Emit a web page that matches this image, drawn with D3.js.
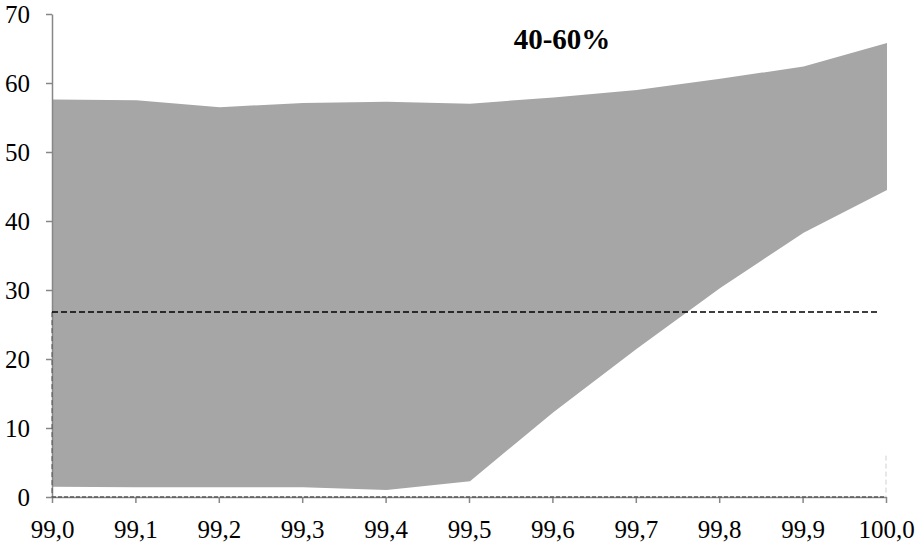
<!DOCTYPE html>
<html>
<head>
<meta charset="utf-8">
<script src="https://cdn.jsdelivr.net/npm/d3@7"></script>
<style>
  body { margin: 0; background: #fff; }
  svg text { font-family: "Liberation Serif", "Times New Roman", serif; }
</style>
</head>
<body>
<div id="chart"></div>
<script>
// percentiles on the x axis
var xValues = [99.0, 99.1, 99.2, 99.3, 99.4, 99.5, 99.6, 99.7, 99.8, 99.9, 100.0];
// band bounds
var upperValues = [57.6, 57.5, 56.5, 57.1, 57.3, 57.0, 57.9, 59.0, 60.6, 62.4, 65.8];
var lowerValues = [1.5, 1.4, 1.4, 1.4, 1.0, 2.3, 12.3, 21.5, 30.3, 38.3, 44.5];
// dashed reference level
var refLevel = [26.8];
var yTicks = [0, 10, 20, 30, 40, 50, 60, 70];
var titleText = "40-60%";

var width = 918, height = 550;
var margin = {left: 52, right: 32, top: 14, bottom: 53};

var x = d3.scaleLinear().domain([99.0, 100.0]).range([margin.left, width - margin.right]);
var y = d3.scaleLinear().domain([0, 70]).range([height - margin.bottom, margin.top]);

var svg = d3.select("#chart").append("svg")
  .attr("width", width)
  .attr("height", height);

var data = xValues.map(function(v, i){
  return {x: v, lo: lowerValues[i], hi: upperValues[i]};
});

// gray band
var area = d3.area()
  .x(function(d){ return x(d.x); })
  .y0(function(d){ return y(d.lo); })
  .y1(function(d){ return y(d.hi); });

svg.append("path")
  .datum(data)
  .attr("d", area)
  .attr("transform", "translate(1,0)")
  .style("fill", "#a6a6a6");

// axes
var fmt = function(d){ return d3.format(".1f")(d).replace(".", ","); };

var xAxis = svg.append("g")
  .attr("transform", "translate(0," + y(0) + ")")
  .call(d3.axisBottom(x).tickValues(xValues).tickFormat(fmt).tickSize(6).tickSizeOuter(0));

var yAxis = svg.append("g")
  .attr("transform", "translate(" + x(99.0) + ",0)")
  .call(d3.axisLeft(y).tickValues(yTicks).tickFormat(d3.format("d")).tickSize(6).tickSizeOuter(0));

[xAxis, yAxis].forEach(function(a){
  a.select(".domain").style("stroke", "#878787").style("stroke-width", 1.5);
  a.selectAll(".tick line").style("stroke", "#878787").style("stroke-width", 1.5);
  a.selectAll(".tick text")
    .style("font-family", "'Liberation Serif', 'Times New Roman', serif")
    .style("font-size", "25px")
    .style("fill", "#000");
});
xAxis.selectAll(".tick text").attr("dy", "0").attr("y", 41);
yAxis.selectAll(".tick text").attr("x", -22).attr("dy", "0.34em");

// dashed lines along the bottom and sides
svg.append("line")
  .attr("x1", x(99.0)).attr("x2", x(100.0))
  .attr("y1", y(0)).attr("y2", y(0))
  .style("stroke", "#5a5a5a")
  .style("stroke-width", 1.5)
  .style("stroke-dasharray", "4,2");

svg.append("line")
  .attr("x1", x(99.0)).attr("x2", x(99.0))
  .attr("y1", y(refLevel[0])).attr("y2", y(0))
  .style("stroke", "#555")
  .style("stroke-width", 1)
  .style("stroke-dasharray", "5,3");

svg.append("line")
  .attr("x1", x(100.0)).attr("x2", x(100.0))
  .attr("y1", y(6)).attr("y2", y(0))
  .style("stroke", "#d0d0d0")
  .style("stroke-width", 1)
  .style("stroke-dasharray", "5,3");

// reference level
svg.append("line")
  .attr("x1", x(99.0)).attr("x2", x(99.99))
  .attr("y1", y(refLevel[0])).attr("y2", y(refLevel[0]))
  .style("stroke", "#000")
  .style("stroke-width", 1.5)
  .style("stroke-dasharray", "6,3");

// title
svg.append("text")
  .text(titleText)
  .attr("x", 562)
  .attr("y", 49)
  .attr("text-anchor", "middle")
  .style("font-weight", "bold")
  .style("font-size", "29px");
</script>
</body>
</html>
